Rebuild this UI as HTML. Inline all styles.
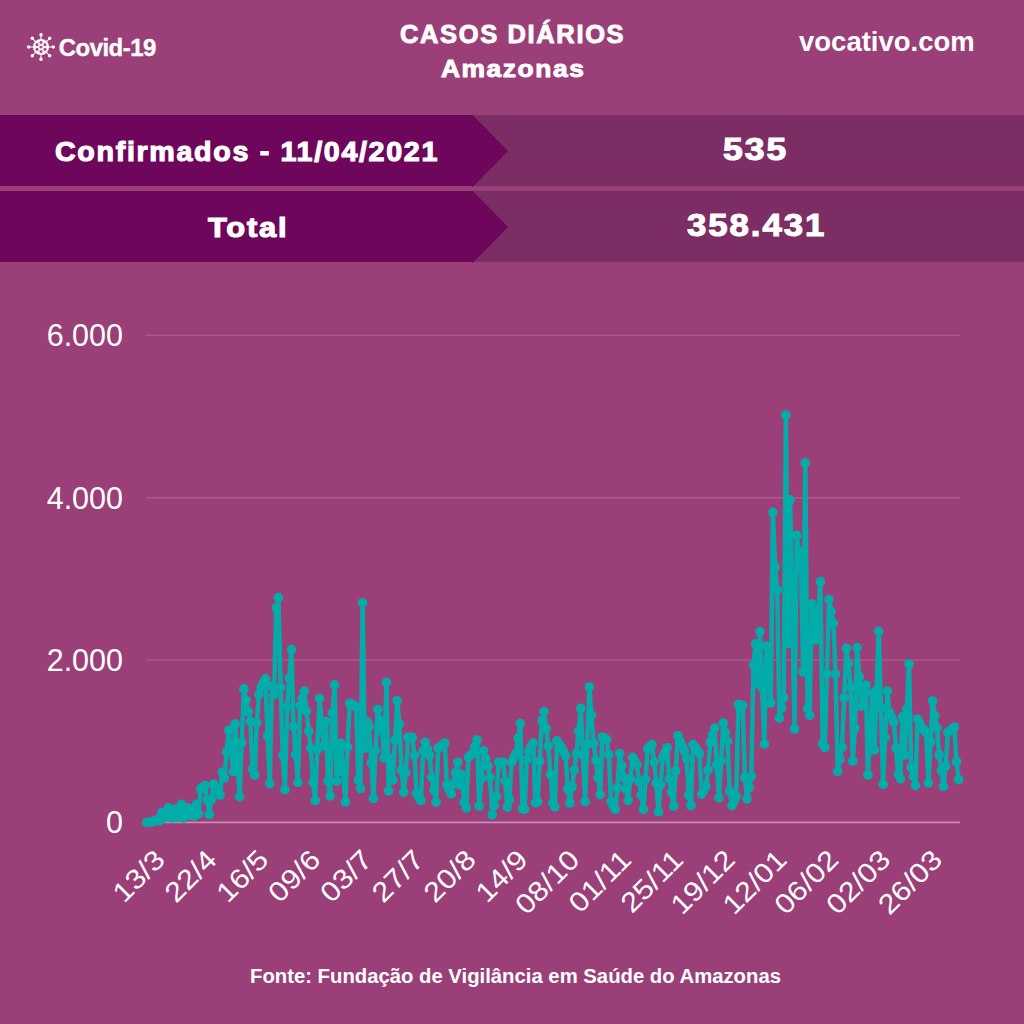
<!DOCTYPE html>
<html><head><meta charset="utf-8">
<style>
html,body{margin:0;padding:0}
body{width:1024px;height:1024px;position:relative;overflow:hidden;background:#9B3F79;font-family:"Liberation Sans",sans-serif;color:#fff}
.t{position:absolute;white-space:nowrap;line-height:1;font-weight:bold}
.k{-webkit-text-stroke:1.1px #fff}
.k2{-webkit-text-stroke:0.9px #fff}
.band{position:absolute;left:0;width:1024px;height:71.5px;background:#7B2D64}
.band .l{position:absolute;left:0;top:0;width:473px;height:100%;background:#6E075C}
.band svg{position:absolute;left:472px;top:0}
</style></head>
<body>
<!-- header -->
<svg style="position:absolute;left:27.4px;top:32.7px" width="28" height="28" viewBox="0 0 28 28"><g stroke="#fff" stroke-width="1.1"><line x1="21.00" y1="14.00" x2="26.30" y2="14.00"/><line x1="18.95" y1="18.95" x2="22.70" y2="22.70"/><line x1="14.00" y1="21.00" x2="14.00" y2="26.30"/><line x1="9.05" y1="18.95" x2="5.30" y2="22.70"/><line x1="7.00" y1="14.00" x2="1.70" y2="14.00"/><line x1="9.05" y1="9.05" x2="5.30" y2="5.30"/><line x1="14.00" y1="7.00" x2="14.00" y2="1.70"/><line x1="18.95" y1="9.05" x2="22.70" y2="5.30"/></g><g fill="#fff"><circle cx="26.30" cy="14.00" r="1.7"/><circle cx="22.70" cy="22.70" r="1.7"/><circle cx="14.00" cy="26.30" r="1.7"/><circle cx="5.30" cy="22.70" r="1.7"/><circle cx="1.70" cy="14.00" r="1.7"/><circle cx="5.30" cy="5.30" r="1.7"/><circle cx="14.00" cy="1.70" r="1.7"/><circle cx="22.70" cy="5.30" r="1.7"/><circle cx="14" cy="14" r="8"/></g><g fill="#A8548A"><circle cx="14" cy="14" r="1.6"/><circle cx="14.00" cy="18.60" r="1.6"/><circle cx="10.02" cy="16.30" r="1.6"/><circle cx="10.02" cy="11.70" r="1.6"/><circle cx="14.00" cy="9.40" r="1.6"/><circle cx="17.98" cy="11.70" r="1.6"/><circle cx="17.98" cy="16.30" r="1.6"/></g></svg>
<div class="t" style="left:58.8px;top:36px;font-size:24px;letter-spacing:-0.55px;-webkit-text-stroke:0.35px #fff">Covid-19</div>
<div class="t k2" style="left:400px;top:22px;font-size:25px;letter-spacing:1.6px;transform-origin:0 0;transform:scaleX(1.02)">CASOS DIÁRIOS</div>
<div class="t k2" style="left:441px;top:57px;font-size:24px;letter-spacing:1.4px;transform-origin:0 0;transform:scaleX(1.1)">Amazonas</div>
<div class="t" style="left:799px;top:28px;font-size:27.5px">vocativo.com</div>

<!-- bands -->
<div class="band" style="top:114.5px">
  <div class="l"></div>
  <svg width="40" height="72" viewBox="0 0 40 71.5"><polygon points="0,0 1,0 36,35.75 1,71.5 0,71.5" fill="#6E075C"/></svg>
</div>
<div class="band" style="top:190.7px">
  <div class="l"></div>
  <svg width="40" height="72" viewBox="0 0 40 71.5"><polygon points="0,0 1,0 36,35.75 1,71.5 0,71.5" fill="#6E075C"/></svg>
</div>
<div class="t k" style="left:55px;top:137.5px;font-size:27.5px;letter-spacing:1.6px;transform-origin:0 0;transform:scaleX(1.042)">Confirmados - 11/04/2021</div>
<div class="t k" style="left:208px;top:214px;font-size:28px;letter-spacing:1.6px;transform-origin:0 0;transform:scaleX(1.103)">Total</div>
<div class="t k" style="left:723px;top:133px;font-size:32px;letter-spacing:1.8px;transform-origin:0 0;transform:scaleX(1.109)">535</div>
<div class="t k" style="left:687px;top:208.5px;font-size:32px;letter-spacing:1.8px;transform-origin:0 0;transform:scaleX(1.086)">358.431</div>

<!-- chart -->
<svg style="position:absolute;left:0;top:0" width="1024" height="1024" viewBox="0 0 1024 1024">
  <g stroke="#AC5B91" stroke-width="1.4">
    <line x1="146" y1="335.4" x2="960" y2="335.4"/>
    <line x1="146" y1="497.7" x2="960" y2="497.7"/>
    <line x1="146" y1="660.1" x2="960" y2="660.1"/>
  </g>
  <line x1="146" y1="822.4" x2="960" y2="822.4" stroke="#C68AB4" stroke-width="1.6"/>
  <g fill="#fff" font-family="Liberation Sans" font-size="30.5" text-anchor="end">
    <text x="123" y="346.3">6.000</text>
    <text x="123" y="508.6">4.000</text>
    <text x="123" y="671">2.000</text>
    <text x="123" y="833.3">0</text>
  </g>
  <g id="xl" fill="#fff" font-family="Liberation Sans" font-size="27.5" text-anchor="end"><text transform="translate(166.5 861.5) rotate(-45) scale(1.12 1)">13/3</text><text transform="translate(218.3 861.5) rotate(-45) scale(1.12 1)">22/4</text><text transform="translate(270.2 861.5) rotate(-45) scale(1.12 1)">16/5</text><text transform="translate(322.0 861.5) rotate(-45) scale(1.12 1)">09/6</text><text transform="translate(373.8 861.5) rotate(-45) scale(1.12 1)">03/7</text><text transform="translate(425.6 861.5) rotate(-45) scale(1.12 1)">27/7</text><text transform="translate(477.5 861.5) rotate(-45) scale(1.12 1)">20/8</text><text transform="translate(529.3 861.5) rotate(-45) scale(1.12 1)">14/9</text><text transform="translate(581.1 861.5) rotate(-45) scale(1.12 1)">08/10</text><text transform="translate(632.9 861.5) rotate(-45) scale(1.12 1)">01/11</text><text transform="translate(684.8 861.5) rotate(-45) scale(1.12 1)">25/11</text><text transform="translate(736.6 861.5) rotate(-45) scale(1.12 1)">19/12</text><text transform="translate(788.4 861.5) rotate(-45) scale(1.12 1)">12/01</text><text transform="translate(840.2 861.5) rotate(-45) scale(1.12 1)">06/02</text><text transform="translate(892.1 861.5) rotate(-45) scale(1.12 1)">02/03</text><text transform="translate(943.9 861.5) rotate(-45) scale(1.12 1)">26/03</text></g>
  <g id="data"><path d="M146.7,822.2 L148.9,822.2 L151.0,822.3 L153.2,821.5 L155.3,820.5 L157.5,819.5 L159.7,820.5 L161.8,812.6 L164.0,818.0 L166.1,812.9 L168.3,807.8 L170.5,816.0 L172.6,818.0 L174.8,809.2 L176.9,817.0 L179.1,810.7 L181.3,804.4 L183.4,818.0 L185.6,812.9 L187.7,807.8 L189.9,815.0 L192.0,809.2 L194.2,816.0 L196.4,804.4 L198.5,813.8 L200.7,788.8 L202.8,787.2 L205.0,785.6 L207.2,800.0 L209.3,814.5 L211.5,799.2 L213.6,784.0 L215.8,787.7 L218.0,791.3 L220.1,795.0 L222.3,772.3 L224.4,777.8 L226.6,752.0 L228.8,730.2 L230.9,750.9 L233.1,771.6 L235.2,723.9 L237.4,760.2 L239.6,796.6 L241.7,742.7 L243.9,688.8 L246.0,700.2 L248.2,711.7 L250.4,721.5 L252.5,769.0 L254.7,775.0 L256.8,722.7 L259.0,694.6 L261.1,687.3 L263.3,683.0 L265.5,678.8 L267.6,736.0 L269.8,783.7 L271.9,686.0 L274.1,694.6 L276.3,608.0 L278.4,597.6 L280.6,687.3 L282.7,755.6 L284.9,789.8 L287.1,706.8 L289.2,678.1 L291.4,649.5 L293.5,726.3 L295.7,754.3 L297.9,782.4 L300.0,705.6 L302.2,698.3 L304.3,691.0 L306.5,711.1 L308.7,731.2 L310.8,748.3 L313.0,782.4 L315.1,800.7 L317.3,749.5 L319.5,698.3 L321.6,722.1 L323.8,745.9 L325.9,721.5 L328.1,781.2 L330.2,795.9 L332.4,712.9 L334.6,684.9 L336.7,781.2 L338.9,762.3 L341.0,743.4 L343.2,772.7 L345.4,802.0 L347.5,747.0 L349.7,703.2 L351.8,704.4 L354.0,705.6 L356.2,706.8 L358.3,780.0 L360.5,788.5 L362.6,602.7 L364.8,748.3 L367.0,721.5 L369.1,726.3 L371.3,763.0 L373.4,798.3 L375.6,750.7 L377.8,709.3 L379.9,720.2 L382.1,731.2 L384.2,758.0 L386.4,682.4 L388.6,791.0 L390.7,758.0 L392.9,780.0 L395.0,740.4 L397.2,700.7 L399.3,723.9 L401.5,770.2 L403.7,792.2 L405.8,772.7 L408.0,737.3 L410.1,737.3 L412.3,737.3 L414.5,755.6 L416.6,793.4 L418.8,797.0 L420.9,800.7 L423.1,750.7 L425.3,742.2 L427.4,748.9 L429.6,755.6 L431.7,777.6 L433.9,789.9 L436.1,802.2 L438.2,748.2 L440.4,746.5 L442.5,744.8 L444.7,743.1 L446.9,785.0 L449.0,789.5 L451.2,793.9 L453.3,783.3 L455.5,772.8 L457.7,762.2 L459.8,785.0 L462.0,774.9 L464.1,802.2 L466.3,807.9 L468.5,757.1 L470.6,755.2 L472.8,753.3 L474.9,746.6 L477.1,740.0 L479.2,806.0 L481.4,778.4 L483.6,750.8 L485.7,758.4 L487.9,766.0 L490.0,777.4 L492.2,814.8 L494.4,805.6 L496.5,796.4 L498.7,762.2 L500.8,762.2 L503.0,762.2 L505.2,781.2 L507.3,807.2 L509.5,799.6 L511.6,762.2 L513.8,757.8 L516.0,753.3 L518.1,738.4 L520.3,723.5 L522.4,808.5 L524.6,809.1 L526.8,759.6 L528.9,750.8 L531.1,747.0 L533.2,743.1 L535.4,802.8 L537.6,801.7 L539.7,761.1 L541.9,720.5 L544.0,711.6 L546.2,728.7 L548.3,745.8 L550.5,774.4 L552.7,803.0 L554.8,806.8 L557.0,740.8 L559.1,744.0 L561.3,747.1 L563.5,751.5 L565.6,756.0 L567.8,789.0 L569.9,803.0 L572.1,786.5 L574.3,770.0 L576.4,753.5 L578.6,731.0 L580.7,708.4 L582.9,755.0 L585.1,801.7 L587.2,744.4 L589.4,687.0 L591.5,715.1 L593.7,743.3 L595.9,760.4 L598.0,777.6 L600.2,794.7 L602.3,737.0 L604.5,738.2 L606.7,739.5 L608.8,754.7 L611.0,801.7 L613.1,805.5 L615.3,809.3 L617.4,787.7 L619.6,753.5 L621.8,765.5 L623.9,777.6 L626.1,789.0 L628.2,800.4 L630.4,778.8 L632.6,757.3 L634.7,761.1 L636.9,764.9 L639.0,781.4 L641.2,795.3 L643.4,809.3 L645.5,779.1 L647.7,749.0 L649.8,746.8 L652.0,744.6 L654.2,762.3 L656.3,783.3 L658.5,811.8 L660.6,784.5 L662.8,757.3 L665.0,752.5 L667.1,747.7 L669.3,778.8 L671.4,792.5 L673.6,806.1 L675.8,770.9 L677.9,735.7 L680.1,740.8 L682.2,745.8 L684.4,750.9 L686.5,758.5 L688.7,795.3 L690.9,805.5 L693.0,744.6 L695.2,747.6 L697.3,750.5 L699.5,753.5 L701.7,794.1 L703.8,790.2 L706.0,786.4 L708.1,770.0 L710.3,742.0 L712.5,735.0 L714.6,728.1 L716.8,764.9 L718.9,797.9 L721.1,760.5 L723.3,723.0 L725.4,732.3 L727.6,741.6 L729.7,791.0 L731.9,805.6 L734.1,801.1 L736.2,796.6 L738.4,704.5 L740.5,705.0 L742.7,705.6 L744.9,777.5 L747.0,798.9 L749.2,787.6 L751.3,776.4 L753.5,665.2 L755.7,643.8 L757.8,683.1 L760.0,631.5 L762.1,687.8 L764.3,744.0 L766.4,646.0 L768.6,674.5 L770.8,703.0 L772.9,512.3 L775.1,566.8 L777.2,590.0 L779.4,718.2 L781.6,708.0 L783.7,697.7 L785.9,415.0 L788.0,643.5 L790.2,499.8 L792.4,614.4 L794.5,729.0 L796.7,535.4 L798.8,551.1 L801.0,566.8 L803.2,672.0 L805.3,462.9 L807.5,708.4 L809.6,715.3 L811.8,604.0 L814.0,622.0 L816.1,640.0 L818.3,610.8 L820.4,581.6 L822.6,743.6 L824.8,747.5 L826.9,673.5 L829.1,599.6 L831.2,611.5 L833.4,623.5 L835.5,674.0 L837.7,771.3 L839.9,759.2 L842.0,747.1 L844.2,697.7 L846.3,648.3 L848.5,663.7 L850.7,687.1 L852.8,761.0 L855.0,728.1 L857.1,647.6 L859.3,676.9 L861.5,706.1 L863.6,695.5 L865.8,685.0 L867.9,775.0 L870.1,734.0 L872.3,693.0 L874.4,750.0 L876.6,690.7 L878.7,631.4 L880.9,707.8 L883.1,784.2 L885.2,737.6 L887.4,691.0 L889.5,712.3 L891.7,717.3 L893.9,722.4 L896.0,748.2 L898.2,774.1 L900.3,778.6 L902.5,716.8 L904.6,755.0 L906.8,709.5 L909.0,664.0 L911.1,767.3 L913.3,776.3 L915.4,785.3 L917.6,719.0 L919.8,723.5 L921.9,728.0 L924.1,730.2 L926.2,732.5 L928.4,783.0 L930.6,742.0 L932.7,701.0 L934.9,715.7 L937.0,728.0 L939.2,755.0 L941.4,770.7 L943.5,786.4 L945.7,766.2 L947.8,732.5 L950.0,730.7 L952.2,728.8 L954.3,727.0 L956.5,761.7 L958.6,779.7" fill="none" stroke="#02ADA9" stroke-width="4.5" stroke-linejoin="round"/><g fill="#02ADA9"><circle cx="146.7" cy="822.2" r="4.8"/><circle cx="148.9" cy="822.2" r="4.8"/><circle cx="151.0" cy="822.3" r="4.8"/><circle cx="153.2" cy="821.5" r="4.8"/><circle cx="155.3" cy="820.5" r="4.8"/><circle cx="157.5" cy="819.5" r="4.8"/><circle cx="159.7" cy="820.5" r="4.8"/><circle cx="161.8" cy="812.6" r="4.8"/><circle cx="164.0" cy="818.0" r="4.8"/><circle cx="166.1" cy="812.9" r="4.8"/><circle cx="168.3" cy="807.8" r="4.8"/><circle cx="170.5" cy="816.0" r="4.8"/><circle cx="172.6" cy="818.0" r="4.8"/><circle cx="174.8" cy="809.2" r="4.8"/><circle cx="176.9" cy="817.0" r="4.8"/><circle cx="179.1" cy="810.7" r="4.8"/><circle cx="181.3" cy="804.4" r="4.8"/><circle cx="183.4" cy="818.0" r="4.8"/><circle cx="185.6" cy="812.9" r="4.8"/><circle cx="187.7" cy="807.8" r="4.8"/><circle cx="189.9" cy="815.0" r="4.8"/><circle cx="192.0" cy="809.2" r="4.8"/><circle cx="194.2" cy="816.0" r="4.8"/><circle cx="196.4" cy="804.4" r="4.8"/><circle cx="198.5" cy="813.8" r="4.8"/><circle cx="200.7" cy="788.8" r="4.8"/><circle cx="202.8" cy="787.2" r="4.8"/><circle cx="205.0" cy="785.6" r="4.8"/><circle cx="207.2" cy="800.0" r="4.8"/><circle cx="209.3" cy="814.5" r="4.8"/><circle cx="211.5" cy="799.2" r="4.8"/><circle cx="213.6" cy="784.0" r="4.8"/><circle cx="215.8" cy="787.7" r="4.8"/><circle cx="218.0" cy="791.3" r="4.8"/><circle cx="220.1" cy="795.0" r="4.8"/><circle cx="222.3" cy="772.3" r="4.8"/><circle cx="224.4" cy="777.8" r="4.8"/><circle cx="226.6" cy="752.0" r="4.8"/><circle cx="228.8" cy="730.2" r="4.8"/><circle cx="230.9" cy="750.9" r="4.8"/><circle cx="233.1" cy="771.6" r="4.8"/><circle cx="235.2" cy="723.9" r="4.8"/><circle cx="237.4" cy="760.2" r="4.8"/><circle cx="239.6" cy="796.6" r="4.8"/><circle cx="241.7" cy="742.7" r="4.8"/><circle cx="243.9" cy="688.8" r="4.8"/><circle cx="246.0" cy="700.2" r="4.8"/><circle cx="248.2" cy="711.7" r="4.8"/><circle cx="250.4" cy="721.5" r="4.8"/><circle cx="252.5" cy="769.0" r="4.8"/><circle cx="254.7" cy="775.0" r="4.8"/><circle cx="256.8" cy="722.7" r="4.8"/><circle cx="259.0" cy="694.6" r="4.8"/><circle cx="261.1" cy="687.3" r="4.8"/><circle cx="263.3" cy="683.0" r="4.8"/><circle cx="265.5" cy="678.8" r="4.8"/><circle cx="267.6" cy="736.0" r="4.8"/><circle cx="269.8" cy="783.7" r="4.8"/><circle cx="271.9" cy="686.0" r="4.8"/><circle cx="274.1" cy="694.6" r="4.8"/><circle cx="276.3" cy="608.0" r="4.8"/><circle cx="278.4" cy="597.6" r="4.8"/><circle cx="280.6" cy="687.3" r="4.8"/><circle cx="282.7" cy="755.6" r="4.8"/><circle cx="284.9" cy="789.8" r="4.8"/><circle cx="287.1" cy="706.8" r="4.8"/><circle cx="289.2" cy="678.1" r="4.8"/><circle cx="291.4" cy="649.5" r="4.8"/><circle cx="293.5" cy="726.3" r="4.8"/><circle cx="295.7" cy="754.3" r="4.8"/><circle cx="297.9" cy="782.4" r="4.8"/><circle cx="300.0" cy="705.6" r="4.8"/><circle cx="302.2" cy="698.3" r="4.8"/><circle cx="304.3" cy="691.0" r="4.8"/><circle cx="306.5" cy="711.1" r="4.8"/><circle cx="308.7" cy="731.2" r="4.8"/><circle cx="310.8" cy="748.3" r="4.8"/><circle cx="313.0" cy="782.4" r="4.8"/><circle cx="315.1" cy="800.7" r="4.8"/><circle cx="317.3" cy="749.5" r="4.8"/><circle cx="319.5" cy="698.3" r="4.8"/><circle cx="321.6" cy="722.1" r="4.8"/><circle cx="323.8" cy="745.9" r="4.8"/><circle cx="325.9" cy="721.5" r="4.8"/><circle cx="328.1" cy="781.2" r="4.8"/><circle cx="330.2" cy="795.9" r="4.8"/><circle cx="332.4" cy="712.9" r="4.8"/><circle cx="334.6" cy="684.9" r="4.8"/><circle cx="336.7" cy="781.2" r="4.8"/><circle cx="338.9" cy="762.3" r="4.8"/><circle cx="341.0" cy="743.4" r="4.8"/><circle cx="343.2" cy="772.7" r="4.8"/><circle cx="345.4" cy="802.0" r="4.8"/><circle cx="347.5" cy="747.0" r="4.8"/><circle cx="349.7" cy="703.2" r="4.8"/><circle cx="351.8" cy="704.4" r="4.8"/><circle cx="354.0" cy="705.6" r="4.8"/><circle cx="356.2" cy="706.8" r="4.8"/><circle cx="358.3" cy="780.0" r="4.8"/><circle cx="360.5" cy="788.5" r="4.8"/><circle cx="362.6" cy="602.7" r="4.8"/><circle cx="364.8" cy="748.3" r="4.8"/><circle cx="367.0" cy="721.5" r="4.8"/><circle cx="369.1" cy="726.3" r="4.8"/><circle cx="371.3" cy="763.0" r="4.8"/><circle cx="373.4" cy="798.3" r="4.8"/><circle cx="375.6" cy="750.7" r="4.8"/><circle cx="377.8" cy="709.3" r="4.8"/><circle cx="379.9" cy="720.2" r="4.8"/><circle cx="382.1" cy="731.2" r="4.8"/><circle cx="384.2" cy="758.0" r="4.8"/><circle cx="386.4" cy="682.4" r="4.8"/><circle cx="388.6" cy="791.0" r="4.8"/><circle cx="390.7" cy="758.0" r="4.8"/><circle cx="392.9" cy="780.0" r="4.8"/><circle cx="395.0" cy="740.4" r="4.8"/><circle cx="397.2" cy="700.7" r="4.8"/><circle cx="399.3" cy="723.9" r="4.8"/><circle cx="401.5" cy="770.2" r="4.8"/><circle cx="403.7" cy="792.2" r="4.8"/><circle cx="405.8" cy="772.7" r="4.8"/><circle cx="408.0" cy="737.3" r="4.8"/><circle cx="410.1" cy="737.3" r="4.8"/><circle cx="412.3" cy="737.3" r="4.8"/><circle cx="414.5" cy="755.6" r="4.8"/><circle cx="416.6" cy="793.4" r="4.8"/><circle cx="418.8" cy="797.0" r="4.8"/><circle cx="420.9" cy="800.7" r="4.8"/><circle cx="423.1" cy="750.7" r="4.8"/><circle cx="425.3" cy="742.2" r="4.8"/><circle cx="427.4" cy="748.9" r="4.8"/><circle cx="429.6" cy="755.6" r="4.8"/><circle cx="431.7" cy="777.6" r="4.8"/><circle cx="433.9" cy="789.9" r="4.8"/><circle cx="436.1" cy="802.2" r="4.8"/><circle cx="438.2" cy="748.2" r="4.8"/><circle cx="440.4" cy="746.5" r="4.8"/><circle cx="442.5" cy="744.8" r="4.8"/><circle cx="444.7" cy="743.1" r="4.8"/><circle cx="446.9" cy="785.0" r="4.8"/><circle cx="449.0" cy="789.5" r="4.8"/><circle cx="451.2" cy="793.9" r="4.8"/><circle cx="453.3" cy="783.3" r="4.8"/><circle cx="455.5" cy="772.8" r="4.8"/><circle cx="457.7" cy="762.2" r="4.8"/><circle cx="459.8" cy="785.0" r="4.8"/><circle cx="462.0" cy="774.9" r="4.8"/><circle cx="464.1" cy="802.2" r="4.8"/><circle cx="466.3" cy="807.9" r="4.8"/><circle cx="468.5" cy="757.1" r="4.8"/><circle cx="470.6" cy="755.2" r="4.8"/><circle cx="472.8" cy="753.3" r="4.8"/><circle cx="474.9" cy="746.6" r="4.8"/><circle cx="477.1" cy="740.0" r="4.8"/><circle cx="479.2" cy="806.0" r="4.8"/><circle cx="481.4" cy="778.4" r="4.8"/><circle cx="483.6" cy="750.8" r="4.8"/><circle cx="485.7" cy="758.4" r="4.8"/><circle cx="487.9" cy="766.0" r="4.8"/><circle cx="490.0" cy="777.4" r="4.8"/><circle cx="492.2" cy="814.8" r="4.8"/><circle cx="494.4" cy="805.6" r="4.8"/><circle cx="496.5" cy="796.4" r="4.8"/><circle cx="498.7" cy="762.2" r="4.8"/><circle cx="500.8" cy="762.2" r="4.8"/><circle cx="503.0" cy="762.2" r="4.8"/><circle cx="505.2" cy="781.2" r="4.8"/><circle cx="507.3" cy="807.2" r="4.8"/><circle cx="509.5" cy="799.6" r="4.8"/><circle cx="511.6" cy="762.2" r="4.8"/><circle cx="513.8" cy="757.8" r="4.8"/><circle cx="516.0" cy="753.3" r="4.8"/><circle cx="518.1" cy="738.4" r="4.8"/><circle cx="520.3" cy="723.5" r="4.8"/><circle cx="522.4" cy="808.5" r="4.8"/><circle cx="524.6" cy="809.1" r="4.8"/><circle cx="526.8" cy="759.6" r="4.8"/><circle cx="528.9" cy="750.8" r="4.8"/><circle cx="531.1" cy="747.0" r="4.8"/><circle cx="533.2" cy="743.1" r="4.8"/><circle cx="535.4" cy="802.8" r="4.8"/><circle cx="537.6" cy="801.7" r="4.8"/><circle cx="539.7" cy="761.1" r="4.8"/><circle cx="541.9" cy="720.5" r="4.8"/><circle cx="544.0" cy="711.6" r="4.8"/><circle cx="546.2" cy="728.7" r="4.8"/><circle cx="548.3" cy="745.8" r="4.8"/><circle cx="550.5" cy="774.4" r="4.8"/><circle cx="552.7" cy="803.0" r="4.8"/><circle cx="554.8" cy="806.8" r="4.8"/><circle cx="557.0" cy="740.8" r="4.8"/><circle cx="559.1" cy="744.0" r="4.8"/><circle cx="561.3" cy="747.1" r="4.8"/><circle cx="563.5" cy="751.5" r="4.8"/><circle cx="565.6" cy="756.0" r="4.8"/><circle cx="567.8" cy="789.0" r="4.8"/><circle cx="569.9" cy="803.0" r="4.8"/><circle cx="572.1" cy="786.5" r="4.8"/><circle cx="574.3" cy="770.0" r="4.8"/><circle cx="576.4" cy="753.5" r="4.8"/><circle cx="578.6" cy="731.0" r="4.8"/><circle cx="580.7" cy="708.4" r="4.8"/><circle cx="582.9" cy="755.0" r="4.8"/><circle cx="585.1" cy="801.7" r="4.8"/><circle cx="587.2" cy="744.4" r="4.8"/><circle cx="589.4" cy="687.0" r="4.8"/><circle cx="591.5" cy="715.1" r="4.8"/><circle cx="593.7" cy="743.3" r="4.8"/><circle cx="595.9" cy="760.4" r="4.8"/><circle cx="598.0" cy="777.6" r="4.8"/><circle cx="600.2" cy="794.7" r="4.8"/><circle cx="602.3" cy="737.0" r="4.8"/><circle cx="604.5" cy="738.2" r="4.8"/><circle cx="606.7" cy="739.5" r="4.8"/><circle cx="608.8" cy="754.7" r="4.8"/><circle cx="611.0" cy="801.7" r="4.8"/><circle cx="613.1" cy="805.5" r="4.8"/><circle cx="615.3" cy="809.3" r="4.8"/><circle cx="617.4" cy="787.7" r="4.8"/><circle cx="619.6" cy="753.5" r="4.8"/><circle cx="621.8" cy="765.5" r="4.8"/><circle cx="623.9" cy="777.6" r="4.8"/><circle cx="626.1" cy="789.0" r="4.8"/><circle cx="628.2" cy="800.4" r="4.8"/><circle cx="630.4" cy="778.8" r="4.8"/><circle cx="632.6" cy="757.3" r="4.8"/><circle cx="634.7" cy="761.1" r="4.8"/><circle cx="636.9" cy="764.9" r="4.8"/><circle cx="639.0" cy="781.4" r="4.8"/><circle cx="641.2" cy="795.3" r="4.8"/><circle cx="643.4" cy="809.3" r="4.8"/><circle cx="645.5" cy="779.1" r="4.8"/><circle cx="647.7" cy="749.0" r="4.8"/><circle cx="649.8" cy="746.8" r="4.8"/><circle cx="652.0" cy="744.6" r="4.8"/><circle cx="654.2" cy="762.3" r="4.8"/><circle cx="656.3" cy="783.3" r="4.8"/><circle cx="658.5" cy="811.8" r="4.8"/><circle cx="660.6" cy="784.5" r="4.8"/><circle cx="662.8" cy="757.3" r="4.8"/><circle cx="665.0" cy="752.5" r="4.8"/><circle cx="667.1" cy="747.7" r="4.8"/><circle cx="669.3" cy="778.8" r="4.8"/><circle cx="671.4" cy="792.5" r="4.8"/><circle cx="673.6" cy="806.1" r="4.8"/><circle cx="675.8" cy="770.9" r="4.8"/><circle cx="677.9" cy="735.7" r="4.8"/><circle cx="680.1" cy="740.8" r="4.8"/><circle cx="682.2" cy="745.8" r="4.8"/><circle cx="684.4" cy="750.9" r="4.8"/><circle cx="686.5" cy="758.5" r="4.8"/><circle cx="688.7" cy="795.3" r="4.8"/><circle cx="690.9" cy="805.5" r="4.8"/><circle cx="693.0" cy="744.6" r="4.8"/><circle cx="695.2" cy="747.6" r="4.8"/><circle cx="697.3" cy="750.5" r="4.8"/><circle cx="699.5" cy="753.5" r="4.8"/><circle cx="701.7" cy="794.1" r="4.8"/><circle cx="703.8" cy="790.2" r="4.8"/><circle cx="706.0" cy="786.4" r="4.8"/><circle cx="708.1" cy="770.0" r="4.8"/><circle cx="710.3" cy="742.0" r="4.8"/><circle cx="712.5" cy="735.0" r="4.8"/><circle cx="714.6" cy="728.1" r="4.8"/><circle cx="716.8" cy="764.9" r="4.8"/><circle cx="718.9" cy="797.9" r="4.8"/><circle cx="721.1" cy="760.5" r="4.8"/><circle cx="723.3" cy="723.0" r="4.8"/><circle cx="725.4" cy="732.3" r="4.8"/><circle cx="727.6" cy="741.6" r="4.8"/><circle cx="729.7" cy="791.0" r="4.8"/><circle cx="731.9" cy="805.6" r="4.8"/><circle cx="734.1" cy="801.1" r="4.8"/><circle cx="736.2" cy="796.6" r="4.8"/><circle cx="738.4" cy="704.5" r="4.8"/><circle cx="740.5" cy="705.0" r="4.8"/><circle cx="742.7" cy="705.6" r="4.8"/><circle cx="744.9" cy="777.5" r="4.8"/><circle cx="747.0" cy="798.9" r="4.8"/><circle cx="749.2" cy="787.6" r="4.8"/><circle cx="751.3" cy="776.4" r="4.8"/><circle cx="753.5" cy="665.2" r="4.8"/><circle cx="755.7" cy="643.8" r="4.8"/><circle cx="757.8" cy="683.1" r="4.8"/><circle cx="760.0" cy="631.5" r="4.8"/><circle cx="762.1" cy="687.8" r="4.8"/><circle cx="764.3" cy="744.0" r="4.8"/><circle cx="766.4" cy="646.0" r="4.8"/><circle cx="768.6" cy="674.5" r="4.8"/><circle cx="770.8" cy="703.0" r="4.8"/><circle cx="772.9" cy="512.3" r="4.8"/><circle cx="775.1" cy="566.8" r="4.8"/><circle cx="777.2" cy="590.0" r="4.8"/><circle cx="779.4" cy="718.2" r="4.8"/><circle cx="781.6" cy="708.0" r="4.8"/><circle cx="783.7" cy="697.7" r="4.8"/><circle cx="785.9" cy="415.0" r="4.8"/><circle cx="788.0" cy="643.5" r="4.8"/><circle cx="790.2" cy="499.8" r="4.8"/><circle cx="792.4" cy="614.4" r="4.8"/><circle cx="794.5" cy="729.0" r="4.8"/><circle cx="796.7" cy="535.4" r="4.8"/><circle cx="798.8" cy="551.1" r="4.8"/><circle cx="801.0" cy="566.8" r="4.8"/><circle cx="803.2" cy="672.0" r="4.8"/><circle cx="805.3" cy="462.9" r="4.8"/><circle cx="807.5" cy="708.4" r="4.8"/><circle cx="809.6" cy="715.3" r="4.8"/><circle cx="811.8" cy="604.0" r="4.8"/><circle cx="814.0" cy="622.0" r="4.8"/><circle cx="816.1" cy="640.0" r="4.8"/><circle cx="818.3" cy="610.8" r="4.8"/><circle cx="820.4" cy="581.6" r="4.8"/><circle cx="822.6" cy="743.6" r="4.8"/><circle cx="824.8" cy="747.5" r="4.8"/><circle cx="826.9" cy="673.5" r="4.8"/><circle cx="829.1" cy="599.6" r="4.8"/><circle cx="831.2" cy="611.5" r="4.8"/><circle cx="833.4" cy="623.5" r="4.8"/><circle cx="835.5" cy="674.0" r="4.8"/><circle cx="837.7" cy="771.3" r="4.8"/><circle cx="839.9" cy="759.2" r="4.8"/><circle cx="842.0" cy="747.1" r="4.8"/><circle cx="844.2" cy="697.7" r="4.8"/><circle cx="846.3" cy="648.3" r="4.8"/><circle cx="848.5" cy="663.7" r="4.8"/><circle cx="850.7" cy="687.1" r="4.8"/><circle cx="852.8" cy="761.0" r="4.8"/><circle cx="855.0" cy="728.1" r="4.8"/><circle cx="857.1" cy="647.6" r="4.8"/><circle cx="859.3" cy="676.9" r="4.8"/><circle cx="861.5" cy="706.1" r="4.8"/><circle cx="863.6" cy="695.5" r="4.8"/><circle cx="865.8" cy="685.0" r="4.8"/><circle cx="867.9" cy="775.0" r="4.8"/><circle cx="870.1" cy="734.0" r="4.8"/><circle cx="872.3" cy="693.0" r="4.8"/><circle cx="874.4" cy="750.0" r="4.8"/><circle cx="876.6" cy="690.7" r="4.8"/><circle cx="878.7" cy="631.4" r="4.8"/><circle cx="880.9" cy="707.8" r="4.8"/><circle cx="883.1" cy="784.2" r="4.8"/><circle cx="885.2" cy="737.6" r="4.8"/><circle cx="887.4" cy="691.0" r="4.8"/><circle cx="889.5" cy="712.3" r="4.8"/><circle cx="891.7" cy="717.3" r="4.8"/><circle cx="893.9" cy="722.4" r="4.8"/><circle cx="896.0" cy="748.2" r="4.8"/><circle cx="898.2" cy="774.1" r="4.8"/><circle cx="900.3" cy="778.6" r="4.8"/><circle cx="902.5" cy="716.8" r="4.8"/><circle cx="904.6" cy="755.0" r="4.8"/><circle cx="906.8" cy="709.5" r="4.8"/><circle cx="909.0" cy="664.0" r="4.8"/><circle cx="911.1" cy="767.3" r="4.8"/><circle cx="913.3" cy="776.3" r="4.8"/><circle cx="915.4" cy="785.3" r="4.8"/><circle cx="917.6" cy="719.0" r="4.8"/><circle cx="919.8" cy="723.5" r="4.8"/><circle cx="921.9" cy="728.0" r="4.8"/><circle cx="924.1" cy="730.2" r="4.8"/><circle cx="926.2" cy="732.5" r="4.8"/><circle cx="928.4" cy="783.0" r="4.8"/><circle cx="930.6" cy="742.0" r="4.8"/><circle cx="932.7" cy="701.0" r="4.8"/><circle cx="934.9" cy="715.7" r="4.8"/><circle cx="937.0" cy="728.0" r="4.8"/><circle cx="939.2" cy="755.0" r="4.8"/><circle cx="941.4" cy="770.7" r="4.8"/><circle cx="943.5" cy="786.4" r="4.8"/><circle cx="945.7" cy="766.2" r="4.8"/><circle cx="947.8" cy="732.5" r="4.8"/><circle cx="950.0" cy="730.7" r="4.8"/><circle cx="952.2" cy="728.8" r="4.8"/><circle cx="954.3" cy="727.0" r="4.8"/><circle cx="956.5" cy="761.7" r="4.8"/><circle cx="958.6" cy="779.7" r="4.8"/></g></g>
</svg>

<div class="t" style="left:250px;top:966px;font-size:20px;transform-origin:0 0;transform:scaleX(1.0144)">Fonte: Fundação de Vigilância em Saúde do Amazonas</div>
</body></html>
